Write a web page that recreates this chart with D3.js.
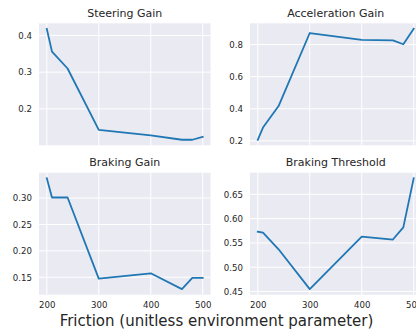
<!DOCTYPE html>
<html>
<head>
<meta charset="utf-8">
<script src="https://cdnjs.cloudflare.com/ajax/libs/d3/7.8.5/d3.min.js"></script>
<style>
  html, body { margin: 0; padding: 0; background: #ffffff; overflow: hidden; }
  svg { display: block; font-family: "DejaVu Sans", sans-serif; }
</style>
</head>
<body>
<svg id="chart" width="416" height="329"></svg>
<script>
// Friction values shared by all four panels
const friction = [200, 210, 240, 300, 400, 460, 480, 500];
const xTicks = [200, 300, 400, 500];

// Fitted controller parameters per friction setting
const steeringGain      = [0.418, 0.356, 0.310, 0.143, 0.128, 0.116, 0.116, 0.124];
const accelerationGain  = [0.207, 0.283, 0.417, 0.872, 0.829, 0.826, 0.802, 0.898];
const brakingGain       = [0.3375, 0.301, 0.301, 0.1475, 0.1575, 0.1275, 0.149, 0.149];
const brakingThreshold  = [0.573, 0.571, 0.537, 0.455, 0.563, 0.557, 0.582, 0.683];

const titles = ["Steering Gain", "Acceleration Gain", "Braking Gain", "Braking Threshold"];
const yTicks = [
  [0.2, 0.3, 0.4],
  [0.2, 0.4, 0.6, 0.8],
  [0.15, 0.20, 0.25, 0.30],
  [0.45, 0.50, 0.55, 0.60, 0.65]
];
const yFormats = [".1f", ".1f", ".2f", ".2f"];
const xLabel = "Friction (unitless environment parameter)";

const panels = [
  { title: titles[0], values: steeringGain,     ticks: yTicks[0], fmt: yFormats[0], col: 0, row: 0 },
  { title: titles[1], values: accelerationGain, ticks: yTicks[1], fmt: yFormats[1], col: 1, row: 0 },
  { title: titles[2], values: brakingGain,      ticks: yTicks[2], fmt: yFormats[2], col: 0, row: 1 },
  { title: titles[3], values: brakingThreshold, ticks: yTicks[3], fmt: yFormats[3], col: 1, row: 1 }
];

const svg = d3.select("#chart");
const colLeft = [39, 250];
const rowTop = [23.3, 172.7];
const pw = 171.5, ph = 122;
const textColor = "#262626";

// pad a data extent by 5% on each side
function padded(ext) {
  const m = (ext[1] - ext[0]) * 0.05;
  return [ext[0] - m, ext[1] + m];
}

const xDomain = padded(d3.extent(friction));

panels.forEach(p => {
  const g = svg.append("g")
    .attr("transform", `translate(${colLeft[p.col]},${rowTop[p.row]})`);

  const x = d3.scaleLinear().domain(xDomain).range([0, pw]);
  const y = d3.scaleLinear().domain(padded(d3.extent(p.values))).range([ph, 0]);

  g.append("rect").attr("width", pw).attr("height", ph).attr("fill", "#eaeaf2");

  // grid
  g.append("g").selectAll("line").data(xTicks).join("line")
    .attr("x1", d => x(d)).attr("x2", d => x(d))
    .attr("y1", 0).attr("y2", ph)
    .attr("stroke", "#ffffff").attr("stroke-width", 1);
  g.append("g").selectAll("line").data(p.ticks).join("line")
    .attr("x1", 0).attr("x2", pw)
    .attr("y1", d => y(d)).attr("y2", d => y(d))
    .attr("stroke", "#ffffff").attr("stroke-width", 1);

  // y axis labels
  const yAxis = d3.axisLeft(y).tickValues(p.ticks).tickFormat(d3.format(p.fmt))
    .tickSize(0).tickPadding(7);
  const ya = g.append("g").call(yAxis);
  ya.select(".domain").remove();
  ya.selectAll("text").attr("fill", textColor).style("font-size", "8.6px")
    .style("font-family", "DejaVu Sans, sans-serif");

  // x axis labels only on the bottom row
  if (p.row === 1) {
    const xAxis = d3.axisBottom(x).tickValues(xTicks).tickFormat(d3.format("d"))
      .tickSize(0).tickPadding(7);
    const xa = g.append("g").attr("transform", `translate(0,${ph})`).call(xAxis);
    xa.select(".domain").remove();
    xa.selectAll("text").attr("fill", textColor).style("font-size", "8.6px")
      .style("font-family", "DejaVu Sans, sans-serif");
  }

  // series line
  const line = d3.line().x((d, i) => x(friction[i])).y(d => y(d));
  g.append("path").datum(p.values)
    .attr("d", line)
    .attr("fill", "none")
    .attr("stroke", "#1f77b4")
    .attr("stroke-width", 1.8)
    .attr("stroke-linejoin", "round")
    .attr("stroke-linecap", "square");

  // panel title
  g.append("text")
    .attr("x", pw / 2).attr("y", -6.5)
    .attr("text-anchor", "middle")
    .attr("fill", textColor)
    .style("font-size", "11px")
    .text(p.title);
});

// shared x-axis label
svg.append("text")
  .attr("x", 216.5).attr("y", 325.5)
  .attr("text-anchor", "middle")
  .attr("fill", textColor)
  .style("font-size", "15px")
  .text(xLabel);
</script>
</body>
</html>
